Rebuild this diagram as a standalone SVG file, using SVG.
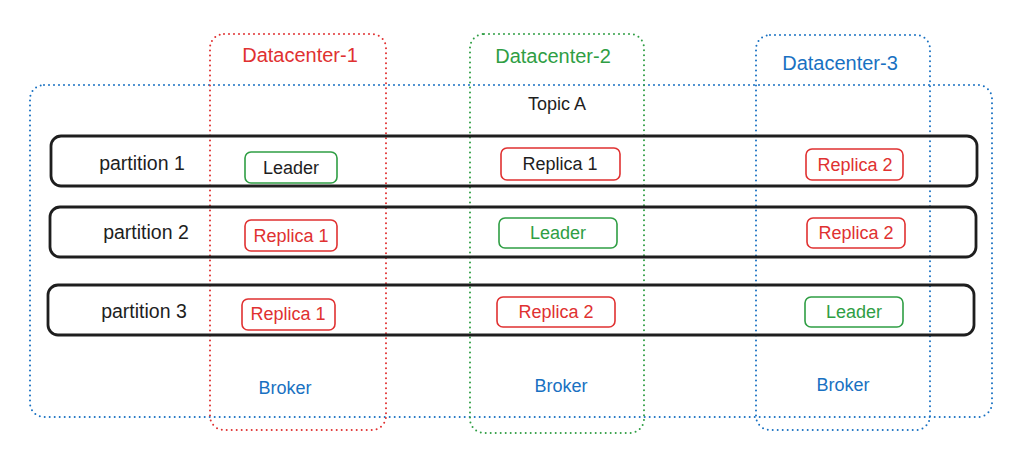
<svg xmlns="http://www.w3.org/2000/svg" width="1024" height="459" viewBox="0 0 1024 459">
<style>
text{font-family:"Liberation Sans",Arial,sans-serif;font-size:18px;text-anchor:middle;dominant-baseline:central}
.dot{fill:none;stroke-width:2;stroke-dasharray:0 5;stroke-linecap:round}
.blue{stroke:#1971c2}.red{stroke:#e03131}.green{stroke:#2f9e44}
.row{fill:none;stroke:#1e1e1e;stroke-width:2.8}
.rb{fill:#fff;stroke:#e03131;stroke-width:1.6}
.gb{fill:#fff;stroke:#2f9e44;stroke-width:1.6}
.tb{fill:#1e1e1e}.tr{fill:#e03131}.tg{fill:#2f9e44}.tu{fill:#1971c2}
.pl{font-size:19.5px}.dc{font-size:20px}
</style>
<rect width="1024" height="459" fill="#fff"/>
<g id="topic">
<rect class="dot blue" x="30" y="85" width="962" height="332" rx="14"/>
<text class="tb" x="557" y="104">Topic A</text>
</g>
<g id="datacenter-1">
<rect class="dot red" x="210" y="34" width="176" height="396" rx="14"/>
<text class="tr dc" x="300" y="55">Datacenter-1</text>
<text class="tu" x="285" y="388">Broker</text>
</g>
<g id="datacenter-2">
<rect class="dot green" x="470" y="34" width="174" height="399" rx="14"/>
<text class="tg dc" x="553" y="56">Datacenter-2</text>
<text class="tu" x="561" y="386">Broker</text>
</g>
<g id="datacenter-3">
<rect class="dot blue" x="756" y="35" width="174" height="395" rx="14"/>
<text class="tu dc" x="840" y="63">Datacenter-3</text>
<text class="tu" x="843" y="385">Broker</text>
</g>
<g id="partition-1">
<rect class="row" x="51" y="136" width="926" height="50" rx="10"/>
<text class="tb pl" x="142" y="163">partition 1</text>
</g>
<g id="partition-2">
<rect class="row" x="50" y="207" width="926" height="50" rx="10"/>
<text class="tb pl" x="146" y="232">partition 2</text>
</g>
<g id="partition-3">
<rect class="row" x="48" y="285" width="926" height="50" rx="10"/>
<text class="tb pl" x="144" y="311">partition 3</text>
</g>
<g id="p1-leader"><rect class="gb" x="245" y="152" width="92" height="31" rx="6"/><text class="tb" x="291" y="168">Leader</text></g>
<g id="p1-replica1"><rect class="rb" x="501" y="148" width="119" height="32" rx="6"/><text class="tb" x="560" y="164">Replica 1</text></g>
<g id="p1-replica2"><rect class="rb" x="806" y="149" width="97" height="31" rx="6"/><text class="tr" x="855" y="165">Replica 2</text></g>
<g id="p2-replica1"><rect class="rb" x="245" y="220" width="92" height="31" rx="6"/><text class="tr" x="291" y="236">Replica 1</text></g>
<g id="p2-leader"><rect class="gb" x="499" y="218" width="118" height="30" rx="6"/><text class="tg" x="558" y="233">Leader</text></g>
<g id="p2-replica2"><rect class="rb" x="807" y="218" width="98" height="30" rx="6"/><text class="tr" x="856" y="233">Replica 2</text></g>
<g id="p3-replica1"><rect class="rb" x="242" y="299" width="93" height="31" rx="6"/><text class="tr" x="288" y="314">Replica 1</text></g>
<g id="p3-replica2"><rect class="rb" x="497" y="297" width="118" height="30" rx="6"/><text class="tr" x="556" y="312">Replica 2</text></g>
<g id="p3-leader"><rect class="gb" x="805" y="297" width="98" height="30" rx="6"/><text class="tg" x="854" y="312">Leader</text></g>
<g id="connectors"/>
</svg>
